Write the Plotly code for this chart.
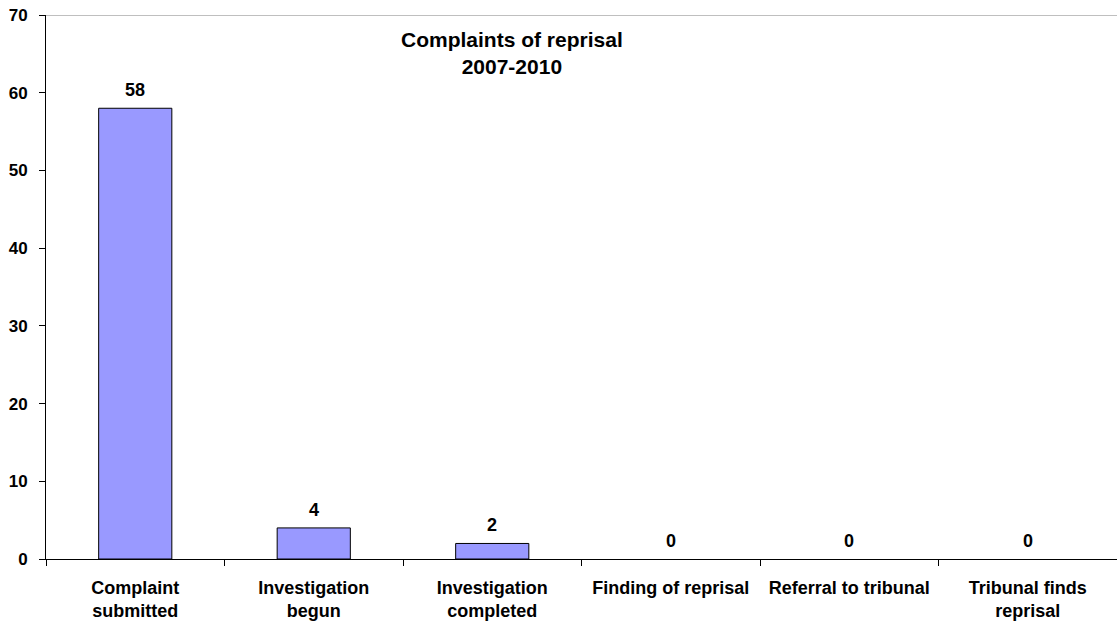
import plotly.graph_objects as go

categories = ["Complaint<br>submitted", "Investigation<br>begun", "Investigation<br>completed",
              "Finding of reprisal", "Referral to tribunal", "Tribunal finds<br>reprisal"]
values = [58, 4, 2, 0, 0, 0]
title_lines = ["Complaints of reprisal", "2007-2010"]

FONT = "Liberation Sans, Arial, sans-serif"

fig = go.Figure(go.Bar(
    x=categories, y=values,
    marker=dict(color="#9999FF",
                line=dict(color="#000000", width=[1 if v > 0 else 0 for v in values])),
    width=0.41,
    hoverinfo="x+y",
))

annotations = [dict(
    text="<b>" + "<br>".join(title_lines) + "</b>",
    x=0.435, y=0.98, xref="paper", yref="paper",
    xanchor="center", yanchor="top", showarrow=False,
    font=dict(family=FONT, size=21, color="#000000"),
)]
for c, v in zip(categories, values):
    annotations.append(dict(
        text="<b>%d</b>" % v, x=c, y=v, xref="x", yref="y",
        xanchor="center", yanchor="bottom", showarrow=False, yshift=6,
        font=dict(family=FONT, size=18, color="#000000"),
    ))

fig.update_layout(
    width=1117, height=621,
    margin=dict(l=46, r=0, t=15, b=62),
    paper_bgcolor="white", plot_bgcolor="white",
    font=dict(family=FONT, size=18, color="#000000"),
    showlegend=False,
    annotations=annotations,
    shapes=[dict(type="line", xref="paper", yref="y", x0=0, x1=1, y0=70, y1=70,
                 line=dict(color="#808080", width=1))],
)

fig.update_xaxes(
    type="category", tickson="boundaries", ticks="outside", ticklen=6,
    tickcolor="#000000", showline=True, linecolor="#000000", linewidth=1,
    showgrid=False, tickfont=dict(family=FONT, size=18, color="#000000"),
    ticktext=["<b>" + c + "</b>" for c in categories], tickvals=categories,
    ticklabelstandoff=12,
)
fig.update_yaxes(
    range=[0, 70], dtick=10, ticks="outside", ticklen=6, tickcolor="#000000",
    showline=True, linecolor="#000000", linewidth=1, showgrid=False, zeroline=False,
    tickfont=dict(family=FONT, size=17, color="#000000"),
    tickprefix="<b>", ticksuffix="</b>", ticklabelstandoff=8,
)

fig.write_html("out.html")
